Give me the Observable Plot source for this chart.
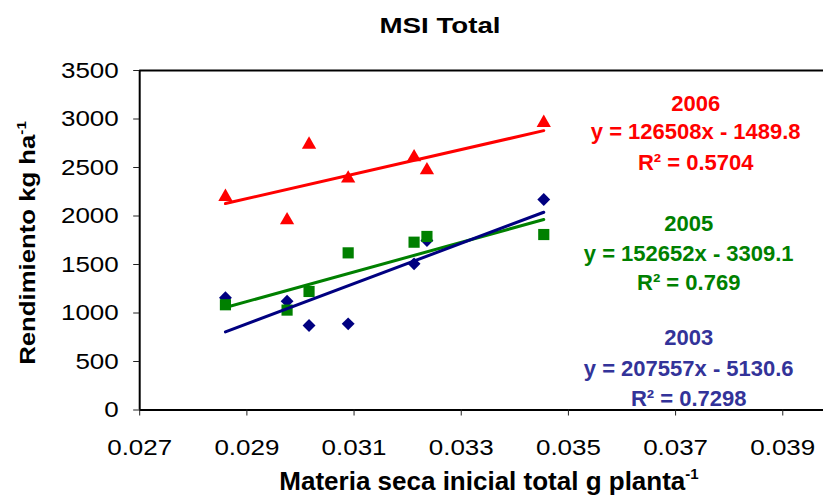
<!DOCTYPE html>
<html>
<head>
<meta charset="utf-8">
<script src="https://cdn.jsdelivr.net/npm/d3@7"></script>
<script src="https://cdn.jsdelivr.net/npm/@observablehq/plot@0.6"></script>
<style>
  body { margin: 0; background: #fff; font-family: "Liberation Sans", Arial, sans-serif; }
  #wrap { position: relative; width: 823px; height: 504px; overflow: hidden; background: #fff; }
  #title { position: absolute; left: 440px; top: 1px; height: 50px; line-height: 50px;
           font-weight: bold; font-size: 22px; white-space: nowrap; color: #000;
           transform: translateX(-50%) scaleX(1.26); }
  #chart { position: absolute; left: 0; top: 50px; }
</style>
</head>
<body>
<div id="wrap">
  <div id="title">MSI Total</div>
  <div id="chart"></div>
</div>
<script>
// ---- data ----
const msiTotal  = [0.0286, 0.02975, 0.03016, 0.03089, 0.03212, 0.03236, 0.03454];
const yield2003 = [1157, 1122, 871, 888, 1507, 1747, 2170];
const yield2005 = [1085, 1030, 1222, 1620, 1730, 1789, 1809];
const yield2006 = [2177, 1936, 2716, 2366, 2586, 2452, 2940];

const years      = ["2003", "2005", "2006"];
const slopes     = [207557, 152652, 126508];
const intercepts = [-5130.6, -3309.1, -1489.8];
const r2Values   = ["0.7298", "0.769", "0.5704"];

const xTicks = [0.027, 0.029, 0.031, 0.033, 0.035, 0.037, 0.039];
const yTicks = [0, 500, 1000, 1500, 2000, 2500, 3000, 3500];

// ---- styles ----
const seriesStyle = {
  "2003": {color: "#000080", text: "#333399", symbol: "diamond2", r: 5.8, dy: 0},
  "2005": {color: "#008000", text: "#008000", symbol: "square",   r: 6.3, dy: 0},
  "2006": {color: "#FF0000", text: "#FF0000", symbol: "triangle", r: 5.3, dy: -2}
};

// annotation layout (frame-relative offsets: centre x, baseline offsets)
const annoLayout = {
  "2006": {dx: 556, dy: [25, 53, 84]},
  "2005": {dx: 549, dy: [145, 175, 204]},
  "2003": {dx: 549, dy: [259, 290, 320]}
};

const table = msiTotal.map((x, i) => ({x, "2003": yield2003[i], "2005": yield2005[i], "2006": yield2006[i]}));

const marks = [];
// frame lines
marks.push(Plot.ruleY([3500], {stroke: "#000", strokeWidth: 2}));
marks.push(Plot.ruleY([0], {stroke: "#000", strokeWidth: 2}));
marks.push(Plot.ruleX([0.027], {stroke: "#000", strokeWidth: 2}));
// axes
marks.push(Plot.axisY(yTicks, {tickSize: 6, tickPadding: 15, label: null, stroke: "#222",
                               tickFormat: d3.format("d")}));
marks.push(Plot.axisX(xTicks, {tickSize: 6, tickPadding: 23, label: null, stroke: "#222",
                               tickFormat: d3.format(".3f")}));
// markers
for (const yr of years) {
  const s = seriesStyle[yr];
  marks.push(Plot.dot(table, {x: "x", y: yr, symbol: () => s.symbol, r: s.r, fill: s.color,
                              stroke: "none", dy: s.dy}));
}
// trend lines from the regression equations
const lineOrder = [1, 0, 2];
for (const k of lineOrder) {
  const yr = years[k];
  const xs = d3.extent(msiTotal);
  const pts = xs.map(x => ({x, y: slopes[k] * x + intercepts[k]}));
  marks.push(Plot.line(pts, {x: "x", y: "y", stroke: seriesStyle[yr].color, strokeWidth: 3}));
}
// annotations
years.forEach((yr, k) => {
  const lines = [
    yr,
    `y = ${slopes[k]}x - ${Math.abs(intercepts[k])}`,
    `R² = ${r2Values[k]}`
  ];
  lines.forEach((t, j) => {
    marks.push(Plot.text([t], {
      text: d => d, frameAnchor: "top-left",
      dx: annoLayout[yr].dx, dy: annoLayout[yr].dy[j],
      fill: seriesStyle[yr].text, fontSize: 22, fontWeight: "bold", textAnchor: "middle"
    }));
  });
});

const chart = Plot.plot({
  width: 823,
  height: 454,
  marginTop: 20,
  marginBottom: 94.5,
  marginLeft: 139.2,
  marginRight: 0,
  x: {domain: [0.027, 0.03976]},
  y: {domain: [0, 3500]},
  style: {fontFamily: "'Liberation Sans', Arial, sans-serif", fontSize: "22px", color: "#000",
          background: "#fff", overflow: "visible"},
  marks
});

// widen tick labels as in the reference
d3.select(chart).selectAll('g[aria-label="y-axis tick label"] text, g[aria-label="x-axis tick label"] text')
  .attr("transform", function() { return (this.getAttribute("transform") || "") + " scale(1.18,1)"; });

const svg = d3.select(chart);
// x-axis title
const xl = svg.append("text")
  .attr("x", 489).attr("y", 440)
  .attr("text-anchor", "middle")
  .attr("font-size", 26).attr("font-weight", "bold").attr("fill", "#000");
xl.append("tspan").text("Materia seca inicial total g planta");
xl.append("tspan").attr("dy", -11).attr("font-size", 15).text("-1");
// y-axis title
const yl = svg.append("text")
  .attr("transform", "translate(35,193) rotate(-90) scale(1.17,1)")
  .attr("text-anchor", "middle")
  .attr("font-size", 22).attr("font-weight", "bold").attr("fill", "#000");
yl.append("tspan").text("Rendimiento kg ha");
yl.append("tspan").attr("dy", -9).attr("font-size", 13).text("-1");

document.getElementById("chart").appendChild(chart);
</script>
</body>
</html>
